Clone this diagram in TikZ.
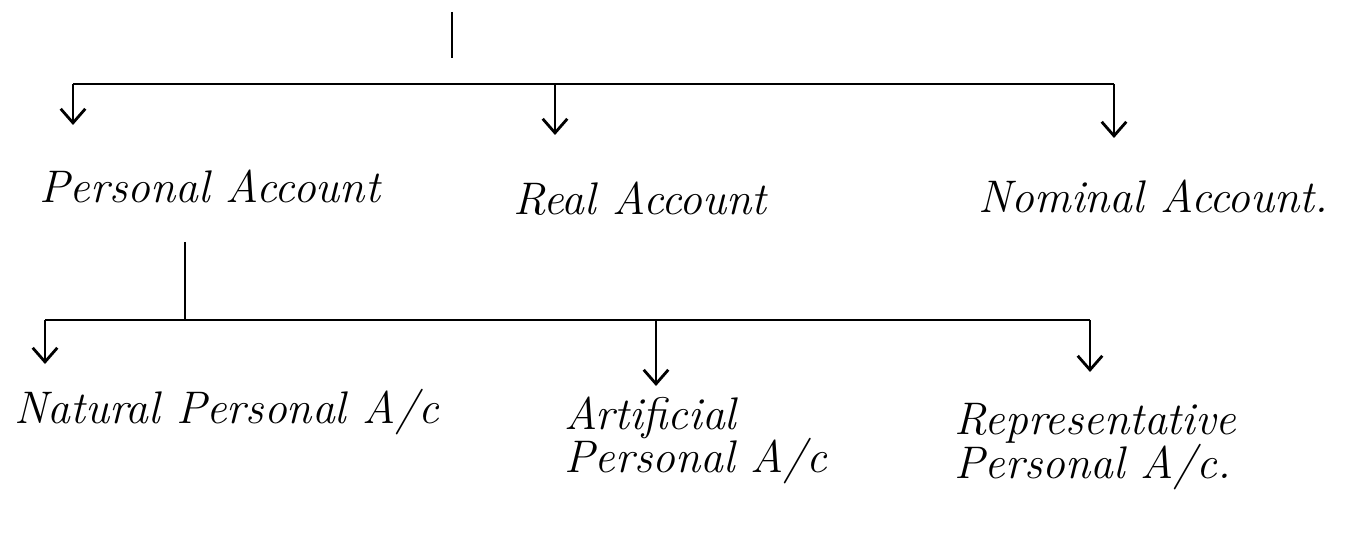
\documentclass[tikz,border=0pt]{standalone}
\usetikzlibrary{arrows.meta}

\begin{document}
\begin{tikzpicture}[x=0.02cm, y=-0.02cm, line width=1.6pt, >={Straight Barb[length=8pt,width=14pt]},
  lbl/.style={inner sep=0pt, anchor=base west, align=left, font=\fontsize{26}{25}\selectfont\itshape}]
  \useasboundingbox (0,0) rectangle (1351,540);

  % first level
  \coordinate (root) at (452,12);
  \coordinate (rootend) at (452,58);
  \coordinate (pa) at (73,84);
  \coordinate (ra) at (555,84);
  \coordinate (na) at (1114,84);
  \coordinate (pe) at (73,125);
  \coordinate (re) at (555,135);
  \coordinate (ne) at (1114,138);
  \node[lbl] (pers) at (38,203) {Personal Account};
  \node[lbl] (real) at (512,215) {Real Account};
  \node[lbl] (nom) at (977,213) {Nominal Account.};

  \draw (root) -- (rootend);
  \draw (pa) -- (na);
  \draw[->] (pa) -- (pe);
  \draw[->] (ra) -- (re);
  \draw[->] (na) -- (ne);

  % second level
  \coordinate (stem) at (185,242);
  \coordinate (fork2) at (185,320);
  \coordinate (nat) at (45,320);
  \coordinate (art) at (656,320);
  \coordinate (rep) at (1090,320);
  \coordinate (nate) at (45,364);
  \coordinate (arte) at (656,386);
  \coordinate (repe) at (1090,372);
  \node[lbl] (natural) at (13,423) {Natural Personal A/c};
  \node[lbl, anchor=north west] (artif) at (563,395) {Artificial\\Personal A/c};
  \node[lbl, anchor=north west] (repr) at (953,402) {Representative\\Personal A/c.};

  \draw (stem) -- (fork2);
  \draw (nat) -- (rep);
  \draw[->] (nat) -- (nate);
  \draw[->] (art) -- (arte);
  \draw[->] (rep) -- (repe);
\end{tikzpicture}
\end{document}
